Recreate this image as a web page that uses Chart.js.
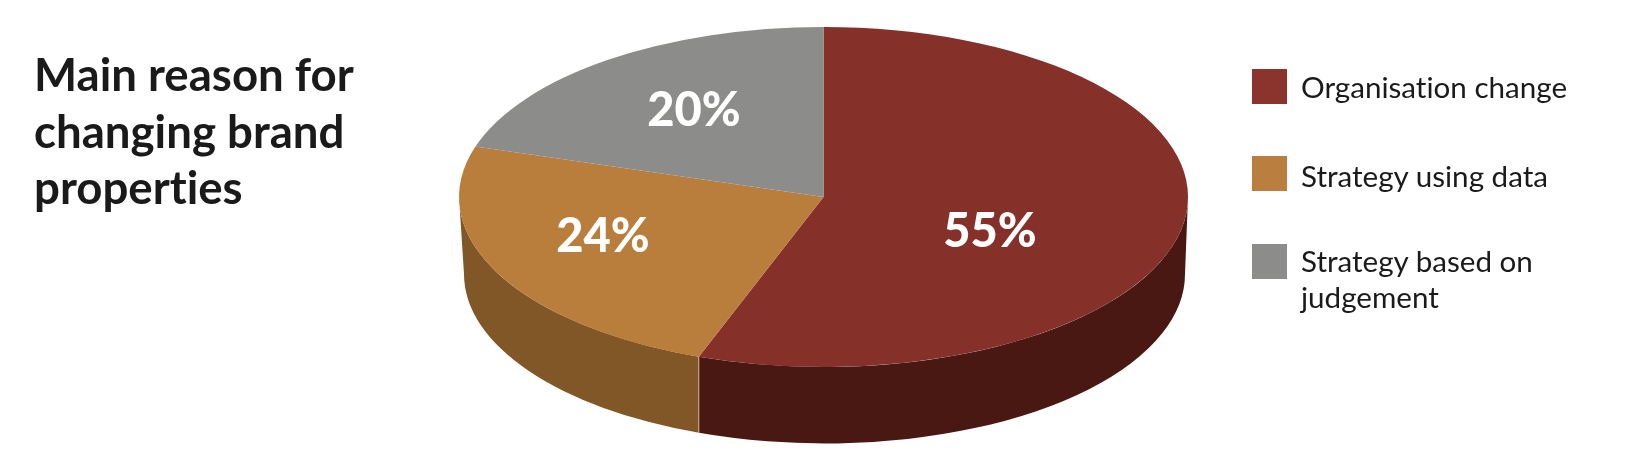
<!DOCTYPE html>
<html>
<head>
<meta charset="utf-8">
<title>Main reason for changing brand properties</title>
<script src="https://cdn.jsdelivr.net/npm/chart.js@4"></script>
<style>
    html, body { margin: 0; padding: 0; background: #fff; }
    #wrap { position: relative; width: 1650px; height: 466px; overflow: hidden; font-family: Lato, sans-serif; color: #1a1a1a; font-variant-ligatures: none; }
    #pie { position: absolute; left: 0; top: 0; }
    #title { position: absolute; left: 34px; top: 46px; font-size: 45.6px; line-height: 56.5px; font-weight: 700; }
    .key { position: absolute; left: 1252px; width: 35px; height: 35px; }
    .key-text { position: absolute; left: 1301px; font-size: 29.6px; line-height: 36px; white-space: nowrap; }
</style>
</head>
<body>
<div id="wrap">
    <canvas id="pie" width="1650" height="466"></canvas>
    <div id="title"></div>
</div>
<script>
const titleLines = ['Main reason for', 'changing brand', 'properties'];
const categories = [['Organisation change'], ['Strategy using data'], ['Strategy based on', 'judgement']];
const shares = [55, 24, 20];
const topColors = ['#85312a', '#b97d3c', '#8c8c8a'];
const wallColors = ['#4a1812', '#825728', '#6a6a68'];
const keyColors = ['#8b342d', '#ba7e3e', '#8c8c8a'];

// top face is a flattened circle, the wall ends on a slightly smaller ellipse below it
const topRadiusX = 364.5;
const wallBottom = { x: 824.5, y: 274, rx: 360.5, ry: 169.5 };

// where the percent labels sit, relative to the pie centre
const labelOffsets = [[166.5, 35], [-220.5, 40], [-129.5, -86]];
const keyTops = [69, 156, 244];
const keyTextTops = [69, 158, 243];

document.getElementById('title').innerHTML = titleLines.join('<br>');

const wrap = document.getElementById('wrap');
categories.forEach((lines, i) => {
    const box = document.createElement('div');
    box.className = 'key';
    box.style.top = keyTops[i] + 'px';
    box.style.background = keyColors[i];
    wrap.appendChild(box);

    const text = document.createElement('div');
    text.className = 'key-text';
    text.style.top = keyTextTops[i] + 'px';
    text.innerHTML = lines.join('<br>');
    wrap.appendChild(text);
});

// Draws the side wall under the front half of each slice
function drawWalls(ctx, meta) {
    meta.data.forEach((arc, i) => {
        const start = Math.max(arc.startAngle, 0);
        const end = Math.min(arc.endAngle, Math.PI);
        if (end <= start) return;

        const ry = arc.outerRadius;
        const bottomAngle = angle => {
            const topX = arc.x + topRadiusX * Math.cos(angle);
            const c = (topX - wallBottom.x) / wallBottom.rx;
            return Math.acos(Math.min(1, Math.max(-1, c)));
        };

        ctx.beginPath();
        ctx.ellipse(arc.x, arc.y, topRadiusX, ry, 0, start, end);
        ctx.ellipse(wallBottom.x, wallBottom.y, wallBottom.rx, wallBottom.ry, 0, bottomAngle(end), bottomAngle(start), true);
        ctx.closePath();
        ctx.fillStyle = wallColors[i];
        ctx.fill();
    });

    // thin light seam between the two visible walls
    const seam = meta.data[0].endAngle;
    const seamX = meta.data[0].x + topRadiusX * Math.cos(seam);
    const seamY = meta.data[0].y + meta.data[0].outerRadius * Math.sin(seam);
    ctx.beginPath();
    ctx.moveTo(seamX, seamY);
    ctx.lineTo(seamX, wallBottom.y + wallBottom.ry * Math.sin(Math.acos((seamX - wallBottom.x) / wallBottom.rx)));
    ctx.strokeStyle = 'rgba(235, 215, 190, 0.7)';
    ctx.lineWidth = 1;
    ctx.stroke();
}

const tiltPlugin = {
    id: 'tilt',
    beforeDatasetDraw(chart, args) {
        const ctx = chart.ctx;
        const arc = args.meta.data[0];
        drawWalls(ctx, args.meta);
        ctx.save();
        ctx.translate(arc.x, 0);
        ctx.scale(topRadiusX / arc.outerRadius, 1);
        ctx.translate(-arc.x, 0);
    },
    afterDatasetDraw(chart, args) {
        const ctx = chart.ctx;
        ctx.restore();

        const arc = args.meta.data[0];
        ctx.save();
        ctx.font = '900 47px Lato, sans-serif';
        ctx.fillStyle = '#fff';
        ctx.textAlign = 'center';
        ctx.textBaseline = 'middle';
        shares.forEach((share, i) => {
            ctx.fillText(share + '%', arc.x + labelOffsets[i][0], arc.y + labelOffsets[i][1]);
        });
        ctx.restore();
    }
};

new Chart(document.getElementById('pie'), {
    type: 'pie',
    data: {
        labels: categories.map(lines => lines.join(' ')),
        datasets: [{
            data: shares,
            backgroundColor: topColors,
            borderWidth: 0,
            clip: false
        }]
    },
    options: {
        responsive: false,
        animation: false,
        layout: { padding: { top: 27, bottom: 99, left: 0, right: 3 } },
        plugins: {
            legend: { display: false },
            tooltip: { enabled: false }
        }
    },
    plugins: [tiltPlugin]
});
</script>
</body>
</html>
